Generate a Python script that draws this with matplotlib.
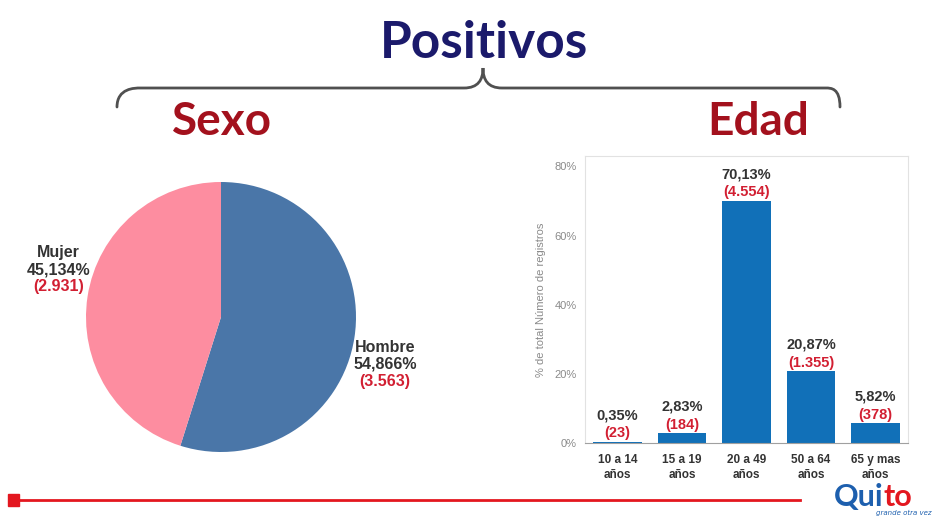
import numpy as np
import matplotlib.pyplot as plt
from matplotlib.path import Path
from matplotlib.patches import PathPatch, Rectangle

# data
sexo_labels = ['Hombre', 'Mujer']
sexo_pct = [54.866, 45.134]
sexo_n = [3563, 2931]
sexo_colors = ['#4a76a8', '#fd8da0']

edad_labels = ['10 a 14\naños', '15 a 19\naños', '20 a 49\naños', '50 a 64\naños', '65 y mas\naños']
edad_pct = [0.35, 2.83, 70.13, 20.87, 5.82]
edad_n = [23, 184, 4554, 1355, 378]
edad_yticks = [0, 20, 40, 60, 80]

NARROW = ['Liberation Sans Narrow', 'Liberation Sans', 'DejaVu Sans']
RED = '#d21f32'
DARK = '#333333'


def fmt_pct(v, nd):
    return f'{v:.{nd}f}'.replace('.', ',') + '%'


def fmt_n(n):
    return '(' + f'{n:,}'.replace(',', '.') + ')'


fig = plt.figure(figsize=(9.4, 5.19), dpi=100)
fig.patch.set_facecolor('white')

# overlay in pixel coords for headings / decoration
bg = fig.add_axes([0, 0, 1, 1])
bg.set_xlim(0, 940)
bg.set_ylim(519, 0)
bg.axis('off')

bg.text(484, 43, 'Positivos', ha='center', va='center', fontsize=37,
        fontweight='bold', color='#1b1a6b', family='Lato')
bg.text(222, 122, 'Sexo', ha='center', va='center', fontsize=33,
        fontweight='bold', color='#a3111d', family='Lato')
bg.text(758, 122, 'Edad', ha='center', va='center', fontsize=33,
        fontweight='bold', color='#a3111d', family='Lato')

# curly brace
verts = [(117, 107), (117, 88), (135, 88), (140, 88),
         (464, 88),
         (478, 88), (483, 80), (483, 68),
         (483, 80), (488, 88), (502, 88),
         (826, 88),
         (831, 88), (840, 88), (840, 107)]
codes = [Path.MOVETO, Path.CURVE4, Path.CURVE4, Path.CURVE4,
         Path.LINETO,
         Path.CURVE4, Path.CURVE4, Path.CURVE4,
         Path.CURVE4, Path.CURVE4, Path.CURVE4,
         Path.LINETO,
         Path.CURVE4, Path.CURVE4, Path.CURVE4]
bg.add_patch(PathPatch(Path(verts, codes), fill=False, lw=2.0, ec='#505050',
                       capstyle='round'))

# bottom red rule + logo fragment
bg.plot([14, 800], [500, 500], color='#e3171f', lw=2)
bg.add_patch(Rectangle((8, 494), 11, 12, color='#e3171f'))
bg.text(834, 497, 'Qui', ha='left', va='center', fontsize=22, fontweight='bold',
        color='#1d5fae', family='Lato')
bg.text(884, 497, 'to', ha='left', va='center', fontsize=22, fontweight='bold',
        color='#e3171f', family='Lato')
bg.text(876, 513, 'grande otra vez', ha='left', va='center', fontsize=5,
        style='italic', color='#1d5fae')

# pie
ax1 = fig.add_axes([86 / 940, 1 - 452 / 519, 270 / 940, 270 / 519])
ax1.pie(sexo_pct, colors=sexo_colors, startangle=90, counterclock=False,
        wedgeprops=dict(linewidth=0))
ax1.set_aspect('equal')
ax1.set_xlim(-1, 1)
ax1.set_ylim(-1, 1)
label_pos = {'Hombre': (1.215, -0.35), 'Mujer': (-1.205, 0.35)}
step = 0.126
for lab, p, n in zip(sexo_labels, sexo_pct, sexo_n):
    x, y = label_pos[lab]
    ax1.text(x, y + step, lab, ha='center', va='center', fontsize=11.5,
             fontweight='bold', color=DARK, family=NARROW, clip_on=False)
    ax1.text(x, y, fmt_pct(p, 3), ha='center', va='center', fontsize=11.5,
             fontweight='bold', color=DARK, family=NARROW, clip_on=False)
    ax1.text(x, y - step, fmt_n(n), ha='center', va='center', fontsize=11.5,
             fontweight='bold', color=RED, family=NARROW, clip_on=False)

# bars
ax2 = fig.add_axes([585 / 940, 1 - 443 / 519, 323 / 940, 287 / 519])
xs = np.arange(len(edad_labels))
ax2.bar(xs, edad_pct, width=0.75, color='#1170b8')
ax2.set_xlim(-0.5, len(edad_labels) - 0.5)
ax2.set_ylim(0, 83)
ax2.set_yticks(edad_yticks)
ax2.set_yticklabels([f'{t}%' for t in edad_yticks], family=NARROW, fontsize=8,
                    color='#8a8a8a')
ax2.set_xticks(xs)
ax2.set_xticklabels(edad_labels, family=NARROW, fontsize=8.5, fontweight='bold',
                    color=DARK, linespacing=1.3)
ax2.tick_params(axis='y', length=0, pad=6)
ax2.tick_params(axis='x', length=0, pad=8)
ax2.set_ylabel('% de total Número de registros', family=NARROW, fontsize=8,
               color='#8a8a8a', labelpad=6)
for s in ['top', 'right', 'left']:
    ax2.spines[s].set_color('#e2e2e2')
    ax2.spines[s].set_linewidth(0.8)
ax2.spines['bottom'].set_color('#a0a0a0')

for x, p, n in zip(xs, edad_pct, edad_n):
    ax2.annotate(fmt_n(n), (x, p), xytext=(0, 6), textcoords='offset points',
                 ha='center', va='center', fontsize=10.5, fontweight='bold',
                 color=RED, family=NARROW)
    ax2.annotate(fmt_pct(p, 2), (x, p), xytext=(0, 19), textcoords='offset points',
                 ha='center', va='center', fontsize=10.5, fontweight='bold',
                 color=DARK, family=NARROW)

fig.savefig('out.png', dpi=100, facecolor='white')
